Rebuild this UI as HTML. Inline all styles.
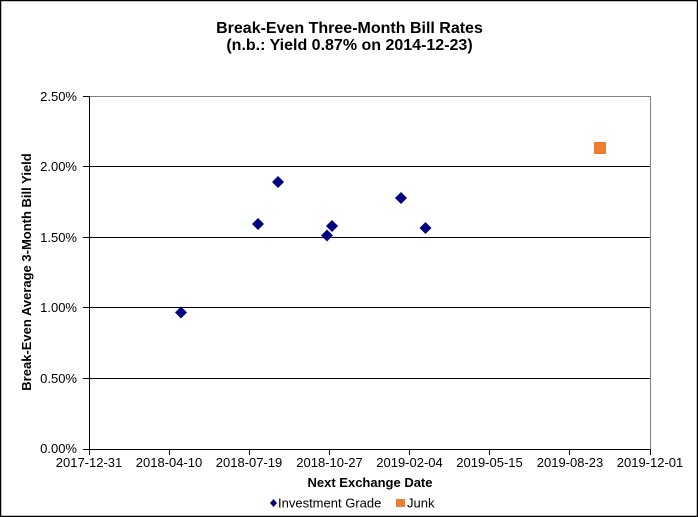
<!DOCTYPE html>
<html><head><meta charset="utf-8"><style>
html,body{margin:0;padding:0;background:#fff;}
svg{display:block;}
text{font-family:"Liberation Sans",Arial,sans-serif;fill:#000;}
</style></head><body>
<svg width="698" height="517" viewBox="0 0 698 517" xmlns="http://www.w3.org/2000/svg">
<rect x="0" y="0" width="698" height="517" fill="#fff"/>
<rect x="0.5" y="0.5" width="697" height="516" fill="none" stroke="#000" stroke-width="1.5"/>
<text x="349.5" y="33" font-size="16" font-weight="bold" text-anchor="middle">Break-Even Three-Month Bill Rates</text>
<text x="349.5" y="50" font-size="16" font-weight="bold" text-anchor="middle">(n.b.: Yield 0.87% on 2014-12-23)</text>
<!-- plot border -->
<line x1="89" y1="96.5" x2="650.5" y2="96.5" stroke="#808080" stroke-width="1"/>
<line x1="650.5" y1="96" x2="650.5" y2="449" stroke="#808080" stroke-width="1"/>
<!-- gridlines -->
<g stroke="#000" stroke-width="1">
<line x1="83" y1="166.5" x2="650" y2="166.5"/>
<line x1="83" y1="237.5" x2="650" y2="237.5"/>
<line x1="83" y1="307.5" x2="650" y2="307.5"/>
<line x1="83" y1="378.5" x2="650" y2="378.5"/>
<line x1="83" y1="96.5" x2="89" y2="96.5"/>
<line x1="83" y1="449.5" x2="651" y2="449.5"/>
<line x1="89.5" y1="96" x2="89.5" y2="455"/>
<line x1="169.5" y1="449" x2="169.5" y2="455"/>
<line x1="249.5" y1="449" x2="249.5" y2="455"/>
<line x1="329.5" y1="449" x2="329.5" y2="455"/>
<line x1="409.5" y1="449" x2="409.5" y2="455"/>
<line x1="489.5" y1="449" x2="489.5" y2="455"/>
<line x1="569.5" y1="449" x2="569.5" y2="455"/>
<line x1="650.5" y1="449" x2="650.5" y2="455"/>
</g>
<!-- y tick labels -->
<g font-size="13" text-anchor="end">
<text x="77" y="101">2.50%</text>
<text x="77" y="171">2.00%</text>
<text x="77" y="242">1.50%</text>
<text x="77" y="312">1.00%</text>
<text x="77" y="383">0.50%</text>
<text x="77" y="453">0.00%</text>
</g>
<!-- x tick labels -->
<g font-size="13" text-anchor="middle">
<text x="89" y="467">2017-12-31</text>
<text x="169" y="467">2018-04-10</text>
<text x="249" y="467">2018-07-19</text>
<text x="329.5" y="467">2018-10-27</text>
<text x="409.5" y="467">2019-02-04</text>
<text x="489.5" y="467">2019-05-15</text>
<text x="570" y="467">2019-08-23</text>
<text x="650" y="467">2019-12-01</text>
</g>
<text x="370" y="487" font-size="13" font-weight="bold" text-anchor="middle">Next Exchange Date</text>
<text transform="translate(31,272) rotate(-90)" font-size="13" font-weight="bold" text-anchor="middle">Break-Even Average 3-Month Bill Yield</text>
<!-- data -->
<g fill="#000080">
<polygon points="181,306.5 187,312.5 181,318.5 175,312.5"/>
<polygon points="258,218 264,224 258,230 252,224"/>
<polygon points="278,176 284,182 278,188 272,182"/>
<polygon points="327,229.5 333,235.5 327,241.5 321,235.5"/>
<polygon points="332,220 338,226 332,232 326,226"/>
<polygon points="401,192 407,198 401,204 395,198"/>
<polygon points="425.5,222 431.5,228 425.5,234 419.5,228"/>
</g>
<rect x="594" y="142" width="12" height="12" fill="#ED7D31"/>
<!-- legend -->
<polygon points="273.5,499 277,503 273.5,507 270,503" fill="#000080"/>
<text x="278" y="507.5" font-size="13">Investment Grade</text>
<rect x="396" y="499" width="9" height="8" fill="#ED7D31"/>
<text x="407" y="507.5" font-size="13">Junk</text>
</svg>
</body></html>
